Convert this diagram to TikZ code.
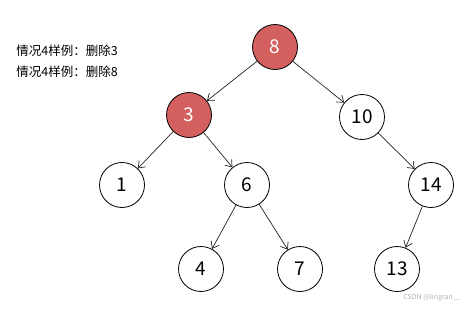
\documentclass[tikz,border=0pt]{standalone}
\usepackage{fontspec}
\setmainfont{Noto Sans CJK SC}
\usepackage{tikz}
\usetikzlibrary{arrows.meta}
\definecolor{delred}{HTML}{D45F5F}
\definecolor{edgegray}{HTML}{222222}

\begin{document}
\begin{tikzpicture}[
    x=1pt, y=-1pt,
    every node/.style={circle, draw=black, line width=0.8pt, minimum size=45pt, inner sep=0pt, font=\fontsize{19}{22}\selectfont, fill=white},
    deleted/.style={fill=delred, text=white},
    edge/.style={-{Straight Barb[length=6pt,width=9pt]}, line width=0.7pt, draw=edgegray},
    note/.style={draw=none, fill=none, rectangle, minimum size=0pt, anchor=west, font=\fontsize{12.5}{14}\selectfont}
]
\useasboundingbox (0,0) rectangle (463,311);
% notes
\node[note] (note1) at (16,51) {情况4样例：删除3};
\node[note] (note2) at (16,72) {情况4样例：删除8};
% tree
\node[deleted] (n8) at (275,47) {8};
\node[deleted] (n3) at (189,115) {3};
\node (n10) at (362,117) {10};
\node (n1) at (122,185) {1};
\node (n6) at (247,185) {6};
\node (n14) at (431,185) {14};
\node (n4) at (201,269) {4};
\node (n7) at (300,269) {7};
\node (n13) at (397,269) {13};
\draw[edge] (n8) -- (n3);
\draw[edge] (n8) -- (n10);
\draw[edge] (n3) -- (n1);
\draw[edge] (n3) -- (n6);
\draw[edge] (n10) -- (n14);
\draw[edge] (n6) -- (n4);
\draw[edge] (n6) -- (n7);
\draw[edge] (n14) -- (n13);
% watermark
\node[note, anchor=east, text=black!30, font=\fontsize{7}{8}\selectfont] (mark) at (461,298) {CSDN @lingran\_\_};
\end{tikzpicture}
\end{document}
